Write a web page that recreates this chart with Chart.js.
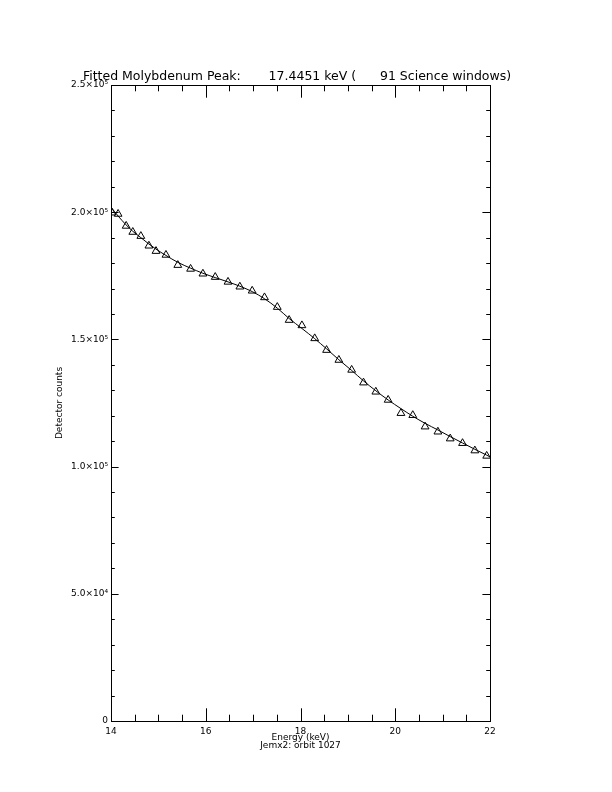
<!DOCTYPE html>
<html>
<head>
<meta charset="UTF-8">
<title>Fitted Molybdenum Peak</title>
<style>
  html, body { margin: 0; padding: 0; background: #fff; }
  canvas { display: block; }
</style>
</head>
<body>
<canvas id="chart" width="612" height="792"></canvas>
<script src="https://cdn.jsdelivr.net/npm/chart.js"></script>
<script>
// measured points (energy in keV, detector counts)
const energy = [14.02, 14.15, 14.32, 14.46, 14.63, 14.80, 14.95, 15.16, 15.41, 15.68,
  15.94, 16.20, 16.47, 16.72, 16.98, 17.24, 17.51, 17.76, 18.03, 18.30,
  18.55, 18.81, 19.08, 19.33, 19.59, 19.85, 20.12, 20.37, 20.63, 20.90,
  21.16, 21.42, 21.68, 21.93];
const counts = [199800, 199300, 194600, 192200, 190600, 186800, 184700, 183200, 179200, 177700,
  175800, 174500, 172600, 170700, 169100, 166500, 162700, 157600, 155500, 150400,
  145800, 141900, 138000, 133000, 129400, 126200, 121000, 120200, 115700, 113700,
  111000, 109200, 106300, 104200];

// fitted curve
const fitEnergy = [14.0, 14.15, 14.32, 14.46, 14.63, 14.80, 14.95, 15.16, 15.41, 15.68,
  15.94, 16.20, 16.47, 16.72, 16.98, 17.24, 17.51, 17.76, 18.03, 18.30,
  18.55, 18.81, 19.08, 19.33, 19.59, 19.85, 20.12, 20.37, 20.63, 20.90,
  21.16, 21.42, 21.68, 21.93, 22.0];
const fitCounts = [202000, 198500, 195000, 192500, 190000, 187500, 185500, 183000, 180300, 178000,
  176000, 174300, 172600, 170900, 168800, 166000, 162300, 158200, 154300, 150300,
  146300, 142000, 137800, 133700, 129800, 126200, 122800, 119800, 117000, 114400,
  111800, 109300, 106800, 104500, 103800];

const xLabels = { 14: '14', 16: '16', 18: '18', 20: '20', 22: '22' };
const yLabels = { 0: '0', 50000: '5.0×10⁴', 100000: '1.0×10⁵', 150000: '1.5×10⁵', 200000: '2.0×10⁵', 250000: '2.5×10⁵' };

const black = '#000';
const labelFont = { family: 'DejaVu Sans', size: 9 };

// IDL style frame with inward ticks on all four sides
const frameTicks = {
  id: 'frameTicks',
  afterDraw(chart) {
    const { ctx, chartArea: a, scales: { x, y } } = chart;
    ctx.save();
    ctx.strokeStyle = black;
    ctx.lineWidth = 1;
    ctx.strokeRect(a.left + 0.5, a.top + 0.5, a.right - a.left, a.bottom - a.top);
    ctx.beginPath();
    x.ticks.forEach(t => {
      const px = Math.round(x.getPixelForValue(t.value)) + 0.5;
      const len = xLabels[t.value] ? 12.7 : 6.3;
      ctx.moveTo(px, a.bottom);
      ctx.lineTo(px, a.bottom - len);
      ctx.moveTo(px, a.top);
      ctx.lineTo(px, a.top + len);
    });
    y.ticks.forEach(t => {
      const py = Math.round(y.getPixelForValue(t.value)) + 0.5;
      const len = yLabels[t.value] ? 7.6 : 3.8;
      ctx.moveTo(a.left, py);
      ctx.lineTo(a.left + len, py);
      ctx.moveTo(a.right, py);
      ctx.lineTo(a.right - len, py);
    });
    ctx.stroke();
    ctx.restore();
  }
};

new Chart(document.getElementById('chart'), {
  type: 'scatter',
  data: {
    datasets: [
      {
        label: 'Data',
        data: energy.map((e, i) => ({ x: e, y: counts[i] })),
        pointStyle: 'triangle',
        pointRadius: 4.5,
        borderColor: black,
        backgroundColor: 'rgba(0,0,0,0)',
        borderWidth: 1
      },
      {
        label: 'Fit',
        data: fitEnergy.map((e, i) => ({ x: e, y: fitCounts[i] })),
        showLine: true,
        pointRadius: 0,
        borderColor: black,
        borderWidth: 1,
        cubicInterpolationMode: 'monotone'
      }
    ]
  },
  options: {
    responsive: false,
    animation: false,
    devicePixelRatio: 1,
    layout: { padding: { left: 0, right: 18, top: 0, bottom: 0 } },
    plugins: {
      legend: { display: false },
      tooltip: { enabled: false },
      title: {
        display: true,
        text: 'Fitted Molybdenum Peak:       17.4451 keV (      91 Science windows)',
        color: black,
        font: { family: 'DejaVu Sans', size: 12.5, weight: 'normal', lineHeight: '13px' },
        padding: { top: 70, bottom: 2 }
      }
    },
    scales: {
      x: {
        type: 'linear',
        min: 14,
        max: 22,
        grid: { display: false, drawTicks: false },
        border: { display: false },
        ticks: {
          stepSize: 0.5,
          autoSkip: false,
          maxRotation: 0,
          padding: 5,
          color: black,
          font: labelFont,
          callback: v => xLabels[v] || ''
        },
        title: {
          display: true,
          text: ['Energy (keV)', 'Jemx2: orbit 1027'],
          color: black,
          font: { family: 'DejaVu Sans', size: 9, lineHeight: '8px' },
          padding: { top: 0, bottom: 42 }
        },
        afterFit: s => { s.height = 71; }
      },
      y: {
        type: 'linear',
        position: 'left',
        min: 0,
        max: 250000,
        grid: { display: false, drawTicks: false },
        border: { display: false },
        ticks: {
          stepSize: 10000,
          autoSkip: false,
          padding: 3,
          color: black,
          font: labelFont,
          callback: v => yLabels[v] || ''
        },
        title: {
          display: true,
          text: 'Detector counts',
          color: black,
          font: { family: 'DejaVu Sans', size: 9, lineHeight: '10px' },
          padding: { top: 55, bottom: 0 }
        },
        afterFit: s => { s.width = 111; }
      },
      y2: {
        type: 'linear',
        position: 'right',
        min: 0,
        max: 250000,
        grid: { display: false, drawTicks: false },
        border: { display: false },
        ticks: { display: false },
        afterFit: s => { s.width = 104; }
      }
    }
  },
  plugins: [frameTicks]
});
</script>
</body>
</html>
